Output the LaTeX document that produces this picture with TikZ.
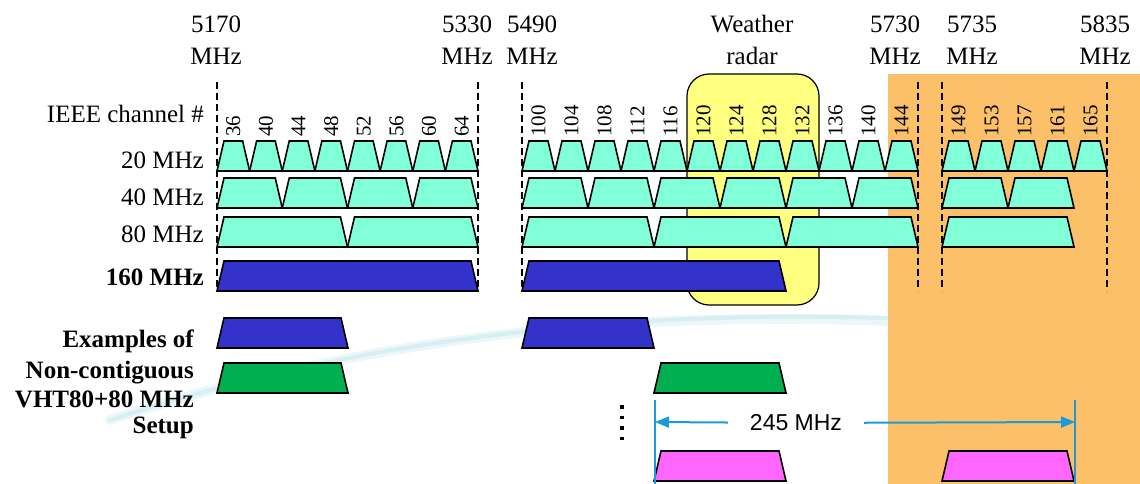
\documentclass[tikz,border=0pt]{standalone}
\usepackage{fontspec}
\setmainfont{Liberation Serif}
\newfontfamily\arialfont{Liberation Sans}
\usetikzlibrary{arrows.meta}

\definecolor{chanfill}{HTML}{80FFD8}
\definecolor{vhtblue}{HTML}{3333CC}
\definecolor{vhtgreen}{HTML}{00B050}
\definecolor{vhtpink}{HTML}{FF66FF}
\definecolor{radarfill}{HTML}{FFFF80}
\definecolor{bandfill}{HTML}{FBC068}
\definecolor{bwblue}{HTML}{1A9AD6}
\definecolor{swooshcol}{HTML}{D6EFF2}
\definecolor{swooshlite}{HTML}{EBF7F9}

\tikzset{
  chan/.style={draw=black, line width=1.6, fill=chanfill},
  vht/.style={chan, fill=vhtblue},
  vhtA/.style={chan, fill=vhtgreen},
  vhtB/.style={chan, fill=vhtpink},
  edge/.style={draw=black, line width=1.5, dash pattern=on 7pt off 4pt},
  lbl/.style={inner sep=0, font=\fontsize{25}{30}\selectfont},
  blbl/.style={lbl, font=\fontsize{25}{30}\selectfont\bfseries},
  chnum/.style={rotate=90, anchor=west, inner sep=0, font=\fontsize{21}{21}\selectfont},
  bwline/.style={draw=bwblue, line width=2},
  >={Triangle[length=14pt,width=11pt]}
}

% x1, x2, bottom y
\newcommand{\chbar}[4][chan]{%
  \draw[#1] ({#2},{#4}) -- ({#2+7},{#4-30}) -- ({#3-7},{#4-30}) -- ({#3},{#4}) -- cycle;}

\begin{document}
\begin{tikzpicture}[x=1pt,y=-1pt]
\useasboundingbox (0,0) rectangle (1140,484);

% background
\draw[swooshlite, line width=10, line cap=round] (110,420) .. controls (300,358) and (550,308) .. (887,321);
\draw[swooshcol, line width=4, line cap=round] (110,420) .. controls (300,358) and (550,308) .. (887,318);
\fill[bandfill] (888,74) rectangle (1140,484);
\draw[fill=radarfill, line width=1.2, rounded corners=22] (687,74) rectangle (819,305);

% frequency labels
\node[lbl, anchor=base] (f5170) at (216,33) {5170};
\node[lbl, anchor=base] (u5170) at (216,65) {MHz};
\node[lbl, anchor=base] (f5330) at (467,33) {5330};
\node[lbl, anchor=base] (u5330) at (467,65) {MHz};
\node[lbl, anchor=base] (f5490) at (532,33) {5490};
\node[lbl, anchor=base] (u5490) at (532,65) {MHz};
\node[lbl, anchor=base] (wr1) at (752,33) {Weather};
\node[lbl, anchor=base] (wr2) at (752,65) {radar};
\node[lbl, anchor=base] (f5730) at (895,33) {5730};
\node[lbl, anchor=base] (u5730) at (895,65) {MHz};
\node[lbl, anchor=base] (f5735) at (972,33) {5735};
\node[lbl, anchor=base] (u5735) at (972,65) {MHz};
\node[lbl, anchor=base] (f5835) at (1105,33) {5835};
\node[lbl, anchor=base] (u5835) at (1105,65) {MHz};

\foreach \x in {217,478,522,918,942,1107}
  \draw[edge] (\x,82) -- (\x,291);

% row labels
\node[lbl, anchor=base east] (ieee) at (204,123) {IEEE channel \#};
\node[lbl, anchor=base east] (r20) at (204,168) {20 MHz};
\node[lbl, anchor=base east] (r40) at (204,205) {40 MHz};
\node[lbl, anchor=base east] (r80) at (204,242) {80 MHz};
\node[blbl, anchor=base east] (r160) at (204,285) {160 MHz};

% channel numbers
\foreach \c [count=\i from 0] in {36,40,...,64}
  \node[chnum] (c\c) at ({217+32.625*(\i+0.5)},137) {\c};
\foreach \c [count=\i from 0] in {100,104,...,144}
  \node[chnum] (c\c) at ({522+33*(\i+0.5)},137) {\c};
\foreach \c [count=\i from 0] in {149,153,...,165}
  \node[chnum] (c\c) at ({942+33*(\i+0.5)},137) {\c};

% 20 MHz
\foreach \i in {0,...,7} {\chbar{217+32.625*\i}{217+32.625*(\i+1)}{171}}
\foreach \i in {0,...,11} {\chbar{522+33*\i}{522+33*(\i+1)}{171}}
\foreach \i in {0,...,4} {\chbar{942+33*\i}{942+33*(\i+1)}{171}}

% 40 MHz
\foreach \i in {0,...,3} {\chbar{217+65.25*\i}{217+65.25*(\i+1)}{208}}
\foreach \i in {0,...,5} {\chbar{522+66*\i}{522+66*(\i+1)}{208}}
\foreach \i in {0,1} {\chbar{942+66*\i}{942+66*(\i+1)}{208}}

% 80 MHz
\foreach \i in {0,1} {\chbar{217+130.5*\i}{217+130.5*(\i+1)}{247}}
\foreach \i in {0,1,2} {\chbar{522+132*\i}{522+132*(\i+1)}{247}}
\chbar{942}{1074}{247}

% 160 MHz
\chbar[vht]{217}{478}{291}
\chbar[vht]{522}{786}{291}

% 80+80 examples
\node[blbl, anchor=base east] (ex1) at (194,347) {Examples of};
\node[blbl, anchor=base east] (ex2) at (194,378) {Non-contiguous};
\node[blbl, anchor=base east] (ex3) at (194,407) {VHT80+80 MHz};
\node[blbl, anchor=base east] (ex4) at (194,433) {Setup};

\chbar[vht]{217}{348}{348}
\chbar[vht]{522}{654}{348}
\chbar[vhtA]{217}{348}{393}
\chbar[vhtA]{654}{786}{393}
\chbar[vhtB]{654}{786}{481}
\chbar[vhtB]{942}{1074}{481}

\draw[line width=3.5, dash pattern=on 3.5pt off 7pt] (622,405) -- (622,440);

% spacing
\coordinate (bwLt) at (655,400);
\coordinate (bwLb) at (655,484);
\coordinate (bwRt) at (1075,400);
\coordinate (bwRb) at (1075,484);
\coordinate (bwL) at (655,422);
\coordinate (bwR) at (1075,422);
\draw[bwblue, line width=1.2] (bwLt) -- (bwLb);
\draw[bwblue, line width=1.2] (bwRt) -- (bwRb);
\node[inner ysep=0, inner xsep=22, font=\arialfont\fontsize{23}{23}\selectfont] (bw) at (796,423) {245 MHz};
\draw[bwline,<-] (bwL) -- (bw);
\draw[bwline,->] (bw) -- (bwR);
\end{tikzpicture}
\end{document}
